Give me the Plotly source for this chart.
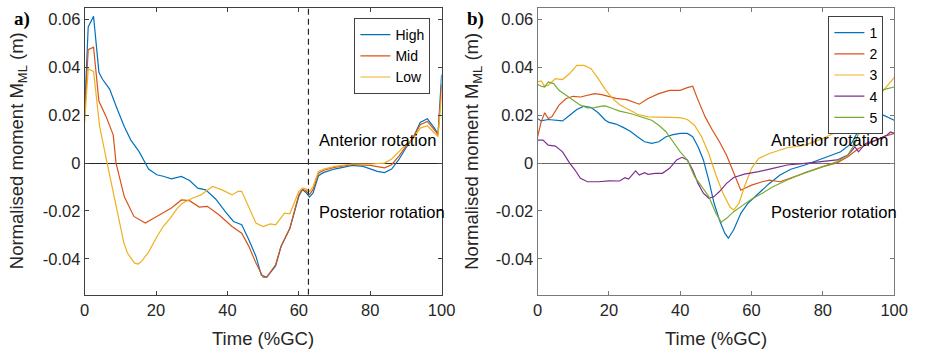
import plotly.graph_objects as go

# ---------------- Panel a data ----------------
high_t = [0, 1, 2.5, 4, 5, 7, 9.2, 11.1, 12.9, 15.2, 17, 17.9, 20.2, 22, 24.3, 27.1, 29.4, 31.7, 33.9, 36.7, 39.4, 41.7, 44, 46, 48, 49.5, 51, 53.5, 55, 57.5, 60, 61, 62, 63, 64, 65.5, 67, 70, 75, 78, 82, 84, 86, 88, 90, 92, 94, 96, 98, 99, 100]
high_v = [0.022, 0.0569, 0.0613, 0.0379, 0.035, 0.0309, 0.0223, 0.0153, 0.0097, 0.0049, 0.0, -0.0025, -0.0049, -0.0055, -0.0066, -0.0056, -0.0073, -0.0105, -0.0112, -0.015, -0.0203, -0.0244, -0.0258, -0.032, -0.039, -0.0468, -0.0477, -0.043, -0.035, -0.0272, -0.0139, -0.0111, -0.0123, -0.0142, -0.0125, -0.0053, -0.0039, -0.0025, -0.001, -0.0014, -0.0035, -0.004, -0.0025, 0.0014, 0.0063, 0.0105, 0.017, 0.0185, 0.0146, 0.012, 0.037]

mid_t = [0, 1, 2.5, 4, 6, 8, 8.8, 11.1, 13.8, 17, 20.2, 24.3, 27.1, 29.4, 32.1, 34.4, 37.6, 41.3, 44, 46, 48, 50, 51, 53.5, 55, 57.5, 60, 61, 62, 63, 64, 65.5, 67, 70, 75, 80, 84, 86, 88, 90, 92, 94, 96, 98, 99, 100]
mid_v = [0.02, 0.0474, 0.0484, 0.0258, 0.0195, 0.0118, 0.0, -0.014, -0.0223, -0.0251, -0.0223, -0.0188, -0.0154, -0.0157, -0.0184, -0.0181, -0.0216, -0.0265, -0.0293, -0.0348, -0.0418, -0.0477, -0.0477, -0.0425, -0.0348, -0.0272, -0.0132, -0.0109, -0.0116, -0.0132, -0.011, -0.0042, -0.003, -0.0018, -0.0006, -0.001, -0.002, -0.0007, 0.0028, 0.007, 0.0105, 0.016, 0.0174, 0.0139, 0.012, 0.0328]

low_t = [0, 1, 2.5, 4.2, 6.3, 7.9, 9.7, 11, 12, 14, 15, 16, 18, 20, 22, 24, 26, 27.5, 30.3, 32.6, 35.8, 38.5, 41.3, 43, 44, 46, 48, 50, 51, 52, 53.5, 55, 56, 57.5, 59, 60, 61, 62, 63, 64, 65.5, 67, 70, 75, 80, 84, 86, 88, 90, 92, 94, 96, 98, 99, 100]
low_v = [0.017, 0.0393, 0.0383, 0.0153, 0.0, -0.0112, -0.0251, -0.0334, -0.0376, -0.0418, -0.0422, -0.041, -0.037, -0.0314, -0.0265, -0.023, -0.0188, -0.0167, -0.0146, -0.0133, -0.0098, -0.0112, -0.0133, -0.0118, -0.0118, -0.0188, -0.0251, -0.0265, -0.0258, -0.0254, -0.0258, -0.023, -0.0209, -0.0212, -0.0153, -0.0118, -0.0105, -0.0108, -0.0118, -0.0098, -0.0035, -0.0025, -0.0014, -0.0004, -0.0004, 0.0, 0.0017, 0.0045, 0.0077, 0.01, 0.0146, 0.0156, 0.0128, 0.0111, 0.0286]

toe_off = 62.7

# ---------------- Panel b data ----------------
s1_t = [0, 1, 3, 5, 7, 9, 11, 13, 15, 17, 19, 20, 22, 24, 26, 28, 30, 32, 34, 36, 38, 40, 42, 43.5, 45, 46.5, 48, 49.5, 51, 52.5, 53.5, 55, 57, 59, 62, 65, 68, 71, 75, 80, 85, 88, 90, 92, 97, 100]
s1_v = [0.0186, 0.0176, 0.0182, 0.0179, 0.0176, 0.02, 0.0224, 0.0238, 0.0232, 0.021, 0.0179, 0.017, 0.0163, 0.0149, 0.0133, 0.011, 0.0089, 0.0082, 0.0089, 0.011, 0.0119, 0.0124, 0.0124, 0.011, 0.0068, 0.0013, -0.0071, -0.0168, -0.0238, -0.0293, -0.0314, -0.0279, -0.021, -0.0168, -0.0126, -0.0085, -0.005, -0.0026, -0.0008, 0.0018, 0.0047, 0.0082, 0.0138, 0.019, 0.02, 0.0179]

s2_t = [0, 1, 2, 3, 4, 6, 8, 10, 12, 14, 16, 18, 20, 22, 25, 28.5, 31, 34, 37, 40, 42, 43.5, 45, 47, 49, 51, 53, 55, 57, 58, 60, 63, 65, 68, 72, 76, 80, 84, 87, 90, 94, 97, 100]
s2_v = [0.011, 0.0172, 0.021, 0.0186, 0.0193, 0.0242, 0.027, 0.0279, 0.0276, 0.0283, 0.029, 0.0286, 0.0279, 0.027, 0.0265, 0.0246, 0.027, 0.029, 0.0304, 0.0304, 0.0315, 0.0321, 0.0263, 0.0193, 0.0138, 0.0089, 0.0033, -0.0043, -0.0113, -0.0106, -0.0092, -0.0078, -0.0071, -0.0078, -0.0057, -0.0036, -0.0015, 0.0001, 0.0026, 0.0061, 0.0089, 0.011, 0.0124]

s3_t = [0, 1, 2, 3, 5, 7, 9, 11, 13, 15, 17, 19, 21, 23, 25, 28, 31, 35, 40, 42, 44, 46, 48, 50, 52, 54, 55, 56.5, 58, 60, 62, 65, 70, 75, 80, 84, 87, 90, 97, 100]
s3_v = [0.0339, 0.0343, 0.0321, 0.0325, 0.0353, 0.0349, 0.0374, 0.0408, 0.0408, 0.0394, 0.0353, 0.0307, 0.027, 0.0244, 0.0228, 0.0204, 0.0193, 0.0193, 0.019, 0.0182, 0.0158, 0.011, 0.004, -0.005, -0.0126, -0.0185, -0.0196, -0.0168, -0.0099, -0.0022, 0.0019, 0.004, 0.0064, 0.0075, 0.0103, 0.0131, 0.0172, 0.021, 0.0304, 0.0357]

s4_t = [0, 1.5, 3, 5, 7, 9, 10.5, 12, 14, 17, 20, 23, 24.5, 25.5, 27.5, 28.5, 30, 31, 33, 35, 37, 39, 40.5, 42, 43.5, 45, 46.5, 48, 49.5, 51, 53, 55, 58, 62, 66, 70, 75, 80, 84, 87, 89, 90, 92, 95, 98, 99, 100]
s4_v = [0.0096, 0.0096, 0.0075, 0.0071, 0.0047, 0.0, -0.0029, -0.0064, -0.0078, -0.0078, -0.0074, -0.0075, -0.0061, -0.0067, -0.0033, -0.005, -0.004, -0.0047, -0.0043, -0.0043, -0.0022, 0.0013, 0.0024, 0.0013, -0.0029, -0.0085, -0.0126, -0.0147, -0.014, -0.0119, -0.0085, -0.006, -0.0046, -0.0036, -0.0022, -0.0008, -0.0001, 0.0006, 0.0013, 0.0033, 0.0068, 0.0047, 0.0082, 0.0096, 0.0117, 0.013, 0.0124]

s5_t = [0, 1, 2, 3, 4.5, 6, 8, 10, 12, 14, 16, 18, 19, 21, 23, 26, 29, 32, 34, 36, 38, 40, 42, 44, 46, 48, 50, 51.5, 53, 55, 57, 60, 63, 66, 70, 75, 80, 84, 87, 89, 91, 97, 100]
s5_v = [0.0329, 0.0321, 0.0318, 0.0339, 0.0332, 0.0304, 0.0283, 0.0263, 0.0242, 0.0231, 0.0232, 0.0238, 0.0239, 0.0228, 0.0217, 0.0207, 0.0193, 0.0179, 0.0158, 0.0131, 0.0089, 0.0047, 0.0013, -0.0056, -0.0097, -0.014, -0.021, -0.0247, -0.0231, -0.0203, -0.0182, -0.0151, -0.0126, -0.0099, -0.0071, -0.004, -0.0015, 0.0006, 0.0033, 0.0082, 0.0165, 0.0307, 0.0318]

y_tickvals = [-0.04, -0.02, 0, 0.02, 0.04, 0.06]
y_ticktext = ["-0.04", "-0.02", "0", "0.02", "0.04", "0.06"]
x_tickvals = [0, 20, 40, 60, 80, 100]
x_ticktext = ["0", "20", "40", "60", "80", "100"]

COLORS = ["#0072BD", "#D95319", "#EDB120", "#7E2F8E", "#77AC30"]
W, H = 930, 353
FONT = "Liberation Sans, Arial, sans-serif"
TICKFONT = 16.5
LEGFONT = 14
TITLEFONT = 18.5

fig = go.Figure()

panel_a = [("High", high_t, high_v), ("Mid", mid_t, mid_v), ("Low", low_t, low_v)]
for i, (name, t, v) in enumerate(panel_a):
    fig.add_trace(go.Scatter(x=t, y=v, mode="lines", name=name,
                             line=dict(color=COLORS[i], width=1.2),
                             xaxis="x", yaxis="y", legend="legend"))

panel_b = [("1", s1_t, s1_v), ("2", s2_t, s2_v), ("3", s3_t, s3_v),
           ("4", s4_t, s4_v), ("5", s5_t, s5_v)]
for i, (name, t, v) in enumerate(panel_b):
    fig.add_trace(go.Scatter(x=t, y=v, mode="lines", name=name,
                             line=dict(color=COLORS[i], width=1.2),
                             xaxis="x2", yaxis="y2", legend="legend2"))

yr = [-0.055, 0.065]

# vertical dashed line (toe-off)
fig.add_trace(go.Scatter(x=[toe_off, toe_off], y=yr, mode="lines",
                         line=dict(color="#262626", width=1.2, dash="6px,4px"),
                         showlegend=False, xaxis="x", yaxis="y", hoverinfo="skip"))

def px_x(p):
    return p / W

def px_y(p):
    return 1 - p / H

ydom = [px_y(294.7), px_y(7.5)]

def xaxis(dom, anchor, color):
    return dict(domain=dom, anchor=anchor, range=[0, 100], tickvals=x_tickvals,
                ticktext=x_ticktext, ticks="inside", ticklen=4, tickcolor=color,
                showline=True, linecolor=color, linewidth=1, mirror="ticks",
                showgrid=False, zeroline=False,
                tickfont=dict(family=FONT, size=TICKFONT, color="#262626"))

def yaxis(anchor, color, zcolor):
    return dict(domain=ydom, anchor=anchor, range=yr, tickvals=y_tickvals,
                ticktext=y_ticktext, ticks="inside", ticklen=4, tickcolor=color,
                showline=True, linecolor=color, linewidth=1, mirror="ticks",
                showgrid=False, zeroline=True, zerolinecolor=zcolor, zerolinewidth=1.2,
                tickfont=dict(family=FONT, size=TICKFONT, color="#262626"))

fig.update_layout(
    width=W, height=H,
    margin=dict(l=0, r=0, t=0, b=0),
    paper_bgcolor="white", plot_bgcolor="white",
    font=dict(family=FONT, color="#262626"),
    xaxis=xaxis([px_x(81.3), px_x(445.7)], "y", "#404040"),
    yaxis=yaxis("x", "#404040", "#262626"),
    xaxis2=xaxis([px_x(543.7), px_x(907.7)], "y2", "#7a7a7a"),
    yaxis2=yaxis("x2", "#7a7a7a", "#666666"),
    legend=dict(x=px_x(434.3), y=px_y(18), xanchor="right", yanchor="top",
                bgcolor="white", bordercolor="#404040", borderwidth=1,
                font=dict(family=FONT, size=LEGFONT, color="#000000"),
                tracegroupgap=0, itemwidth=30),
    legend2=dict(x=px_x(896.7), y=px_y(16), xanchor="right", yanchor="top",
                 bgcolor="white", bordercolor="#404040", borderwidth=1,
                 font=dict(family=FONT, size=LEGFONT, color="#000000"),
                 tracegroupgap=0, itemwidth=30),
    showlegend=True,
)

ann = []
for xr, yrf in [("x", "y"), ("x2", "y2")]:
    ann.append(dict(x=65, y=0.0095, xref=xr, yref=yrf, text="Anterior rotation",
                    showarrow=False, xanchor="left", yanchor="middle",
                    font=dict(family=FONT, size=TICKFONT, color="#000000")))
    ann.append(dict(x=65, y=-0.0204, xref=xr, yref=yrf, text="Posterior rotation",
                    showarrow=False, xanchor="left", yanchor="middle",
                    font=dict(family=FONT, size=TICKFONT, color="#000000")))

for cx, label in [(263.5, "Time (%GC)"), (725.7, "Time (%GC)")]:
    ann.append(dict(x=px_x(cx), y=px_y(338), xref="paper", yref="paper", text=label,
                    showarrow=False, xanchor="center", yanchor="middle",
                    font=dict(family=FONT, size=TITLEFONT, color="#262626")))

for cx in [13.5, 477.5]:
    ann.append(dict(x=px_x(cx), y=px_y(151), xref="paper", yref="paper",
                    text="Normalised moment M<sub>ML</sub> (m)", textangle=-90,
                    showarrow=False, xanchor="center", yanchor="middle",
                    font=dict(family=FONT, size=TITLEFONT, color="#262626")))

for cx, lab in [(7, "a)"), (470, "b)")]:
    ann.append(dict(x=px_x(cx), y=px_y(19), xref="paper", yref="paper",
                    text="<b>" + lab + "</b>", showarrow=False,
                    xanchor="left", yanchor="middle",
                    font=dict(family="Liberation Serif, Times New Roman, serif",
                              size=19, color="#000000")))

fig.update_layout(annotations=ann)
fig.write_html("out.html")
